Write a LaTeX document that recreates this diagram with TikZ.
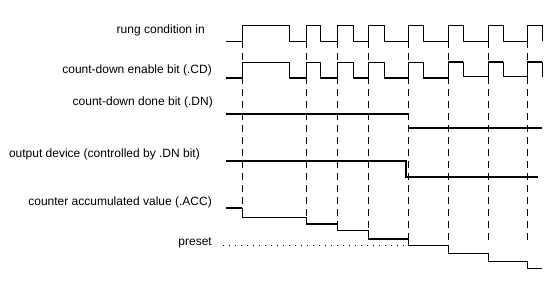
\documentclass[tikz,border=0pt]{standalone}
\usepackage{fontspec}
\setmainfont{Liberation Sans}
\usetikzlibrary{positioning}

\tikzset{
  thinwave/.style={line width=1pt},
  thickwave/.style={line width=2pt},
  markerline/.style={line width=1pt, dash pattern=on 7pt off 5pt},
  presetline/.style={line width=1pt, dash pattern=on 1pt off 5pt},
  signame/.style={anchor=east, inner sep=0pt, font=\fontsize{12}{14}\selectfont}
}

\begin{document}
\begin{tikzpicture}[x=1pt, y=-1pt]
	\useasboundingbox (0,0) rectangle (556,287);
	% Labels:
	\node[signame] (rung) at (205, 30){rung condition in};
	\node[signame] (enable) at (212, 70){count-down enable bit (.CD)};
	\node[signame] (done) at (213, 102){count-down done bit (.DN)};
	\node[signame] (output) at (200, 154){output device (controlled by .DN bit)};
	\node[signame] (acc) at (212, 202){counter accumulated value (.ACC)};
	\node[signame] (preset) at (212, 243){preset};
	
	% Count edges:
	\foreach \x/\y in {242/217, 306/224, 337/230, 368/239, 408/245, 448/242, 488/242, 527/242}
		\draw[markerline] (\x, 41) -- (\x, \y);
	
	% Rung condition in:
	\draw[thinwave] (226, 41) -- (242, 41) -- (242, 25) -- (289, 25) -- (289, 41)
		-- (306, 41) -- (306, 25) -- (320, 25) -- (320, 41)
		-- (337, 41) -- (337, 25) -- (353, 25) -- (353, 41)
		-- (368, 41) -- (368, 25) -- (384, 25) -- (384, 41)
		-- (408, 41) -- (408, 25) -- (423, 25) -- (423, 41)
		-- (448, 41) -- (448, 25) -- (463, 25) -- (463, 41)
		-- (488, 41) -- (488, 25) -- (503, 25) -- (503, 41)
		-- (527, 41) -- (527, 25) -- (542, 25) -- (542, 41);
	
	% Count-down enable bit:
	\draw[thinwave] (242, 77) -- (242, 62) -- (289, 62) -- (289, 77)
		(306, 77) -- (306, 62) -- (320, 62) -- (320, 77)
		(337, 77) -- (337, 62) -- (353, 62) -- (353, 77)
		(368, 77) -- (368, 62) -- (384, 62) -- (384, 77)
		(408, 77) -- (408, 62) -- (423, 62) -- (423, 77)
		(448, 77) -- (448, 62) (463, 62) -- (463, 76.5) -- (488, 76.5) -- (488, 62)
		(503, 62) -- (503, 76.5) -- (527, 76.5) -- (527, 62) (542, 62) -- (542, 76.5);
	\draw[thickwave] (226, 77.5) -- (242, 77.5) (289, 77.5) -- (306, 77.5)
		(320, 77.5) -- (337, 77.5) (353, 77.5) -- (368, 77.5)
		(384, 77.5) -- (408, 77.5) (423, 77.5) -- (448, 77.5)
		(448, 61.5) -- (463, 61.5) (488, 61.5) -- (503, 61.5) (527, 61.5) -- (542, 61.5);
	
	% Count-down done bit:
	\draw[thickwave] (226, 114) -- (408, 114) (408, 128) -- (542, 128);
	
	% Output device:
	\draw[thickwave] (226, 161) -- (406, 161) -- (406, 176.5) -- (538, 176.5);
	
	% Accumulated value:
	\draw[thickwave] (226, 207.5) -- (242, 207.5) (306, 224) -- (337, 224) (368, 239) -- (408, 239);
	\draw[thinwave] (242, 207.5) -- (242, 217) -- (306, 217) -- (306, 224)
		(337, 224) -- (337, 230) -- (368, 230) -- (368, 239)
		(408, 239) -- (408, 245) -- (448, 245) -- (448, 253) -- (488, 253)
		-- (488, 261) -- (527, 261) -- (527, 268) -- (542, 268);
	
	% Preset:
	\draw[presetline] (223, 245) -- (408, 245);
\end{tikzpicture}
\end{document}
